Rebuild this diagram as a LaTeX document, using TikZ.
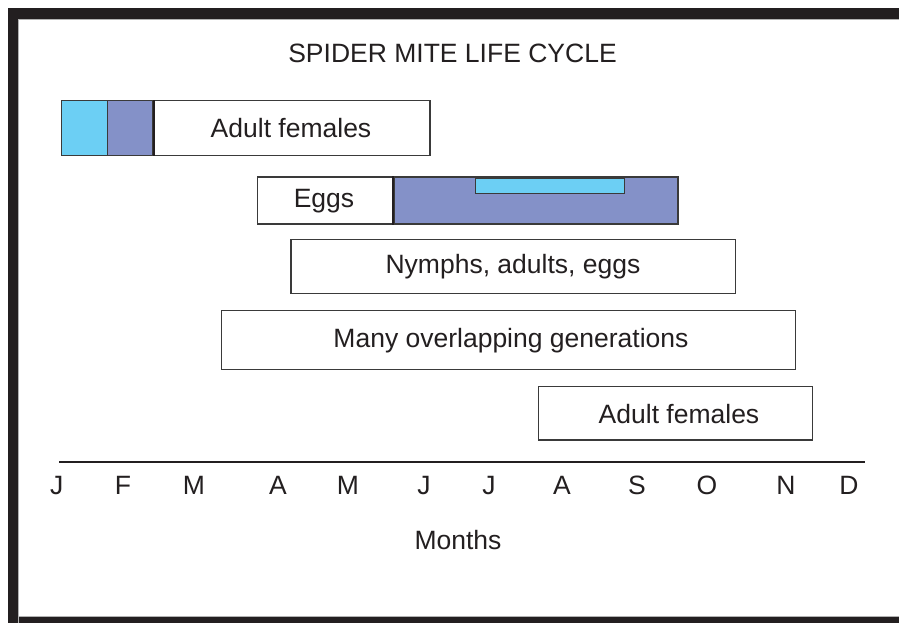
\documentclass[tikz,border=0pt]{standalone}
\usepackage{fontspec}
\setmainfont{Liberation Sans}
\definecolor{ink}{HTML}{231F20}
\definecolor{cyanfill}{HTML}{6CCFF4}
\definecolor{purplefill}{HTML}{8491C8}
\definecolor{boxline}{HTML}{3A3A3A}
\begin{document}
\begin{tikzpicture}[x=1pt,y=-1pt,
  lbl/.style={text=ink,font=\fontsize{26.5}{31}\selectfont,inner sep=0pt},
  bar/.style={draw=boxline,line width=1.3pt},
  whitebar/.style={bar,fill=white},
  cyanbar/.style={bar,fill=cyanfill},
  purplebar/.style={bar,fill=purplefill}]
\useasboundingbox (0,0) rectangle (899,623);
% frame
\fill[ink] (8,8) rectangle (930,640);
\fill[white] (18,19) rectangle (930,616);
\draw[gray!60,line width=0.8pt] (18,630) -- (18,19) -- (930,19);
\draw[gray!60,line width=0.8pt] (18,616) -- (930,616);
% title
\node[lbl] (title) at (452.5,53.5) {SPIDER MITE LIFE CYCLE};
% row 1
\node[cyanbar,minimum width=45.5,minimum height=54.5,inner sep=0pt] (c1) at (84.5,128) {};
\node[purplebar,minimum width=46,minimum height=54.5,inner sep=0pt] (p1) at (130.3,128) {};
\node[whitebar,minimum width=277,minimum height=54.5,inner sep=0pt] (af1) at (291.5,128) {};
\draw[ink,line width=2pt] (p1.north east) -- (p1.south east);
\node[lbl] (af1t) at (291,128.5) {Adult females};
% row 2
\node[whitebar,minimum width=136.5,minimum height=47,inner sep=0pt] (eggs) at (326,200.5) {};
\node[lbl] (eggst) at (324,201) {Eggs};
\node[purplebar,minimum width=284,minimum height=47,inner sep=0pt] (p2) at (536,200.5) {};
\draw[ink,line width=2pt] (p2.north west) -- (p2.south west);
\node[cyanbar,minimum width=149.5,minimum height=15,inner sep=0pt] (c2) at (550,185.8) {};
% row 3
\node[whitebar,minimum width=444.5,minimum height=54,inner sep=0pt] (nym) at (513.3,266.3) {};
\node[lbl] (nymt) at (513,267) {Nymphs, adults, eggs};
% row 4
\node[whitebar,minimum width=574,minimum height=59,inner sep=0pt] (many) at (508.7,339.8) {};
\node[lbl] (manyt) at (511,340.5) {Many overlapping generations};
% row 5
\node[whitebar,minimum width=274,minimum height=53.3,inner sep=0pt] (af2) at (675.7,413.3) {};
\node[lbl] (af2t) at (679,413.8) {Adult females};
% axis
\coordinate (ax1) at (59,462);
\coordinate (ax2) at (865,462);
\draw[ink,line width=2.2pt] (ax1) -- (ax2);
\node[lbl] (m1) at (56.7,485.5) {J};
\node[lbl] (m2) at (123,485.5) {F};
\node[lbl] (m3) at (194,485.5) {M};
\node[lbl] (m4) at (278,485.5) {A};
\node[lbl] (m5) at (348,485.5) {M};
\node[lbl] (m6) at (424,485.5) {J};
\node[lbl] (m7) at (489,485.5) {J};
\node[lbl] (m8) at (562,485.5) {A};
\node[lbl] (m9) at (637,485.5) {S};
\node[lbl] (m10) at (707,485.5) {O};
\node[lbl] (m11) at (786,485.5) {N};
\node[lbl] (m12) at (849,485.5) {D};
\node[lbl] (months) at (458,540.5) {Months};
\end{tikzpicture}
\end{document}
